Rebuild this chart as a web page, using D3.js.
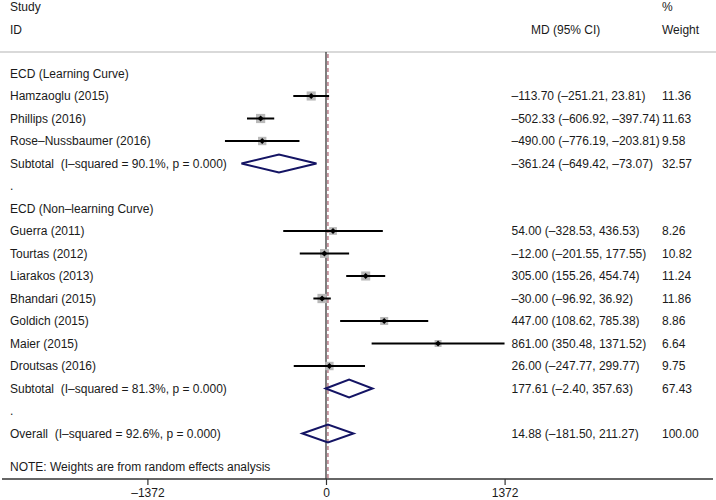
<!DOCTYPE html>
<html>
<head>
<meta charset="utf-8">
<script src="https://cdn.jsdelivr.net/npm/d3@7"></script>
<style>
  html, body { margin: 0; padding: 0; background: #fff; }
  svg { display: block; }
  text { font-family: "Liberation Sans", Arial, Helvetica, sans-serif; font-size: 12px; fill: #1a1a1a; white-space: pre; }
</style>
</head>
<body>
<svg id="chart" width="716" height="500"></svg>
<script>
// ---- data ----
const rowLabels = [
  "ECD (Learning Curve)",
  "Hamzaoglu (2015)",
  "Phillips (2016)",
  "Rose–Nussbaumer (2016)",
  "Subtotal  (I–squared = 90.1%, p = 0.000)",
  ".",
  "ECD (Non–learning Curve)",
  "Guerra (2011)",
  "Tourtas (2012)",
  "Liarakos (2013)",
  "Bhandari (2015)",
  "Goldich (2015)",
  "Maier (2015)",
  "Droutsas (2016)",
  "Subtotal  (I–squared = 81.3%, p = 0.000)",
  ".",
  "Overall  (I–squared = 92.6%, p = 0.000)"
];
// row type: h = group header, s = study, d = pooled diamond, b = blank
const rowTypes = ["h","s","s","s","d","b","h","s","s","s","s","s","s","s","d","b","d"];
const md     = [null, -113.70, -502.33, -490.00, -361.24, null, null, 54.00, -12.00, 305.00, -30.00, 447.00, 861.00, 26.00, 177.61, null, 14.88];
const ciLow  = [null, -251.21, -606.92, -776.19, -649.42, null, null, -328.53, -201.55, 155.26, -96.92, 108.62, 350.48, -247.77, -2.40, null, -181.50];
const ciHigh = [null, 23.81, -397.74, -203.81, -73.07, null, null, 436.53, 177.55, 454.74, 36.92, 785.38, 1371.52, 299.77, 357.63, null, 211.27];
const weights = [null, 11.36, 11.63, 9.58, 32.57, null, null, 8.26, 10.82, 11.24, 11.86, 8.86, 6.64, 9.75, 67.43, null, 100.00];
const tickValues = [-1372, 0, 1372];
const overallEffect = 14.88;

const fmt = v => (v < 0 ? "–" : "") + Math.abs(v).toFixed(2);

// ---- layout ----
const svg = d3.select("#chart");
const x = d3.scaleLinear().domain([-1372, 1372]).range([147.4, 504.6]);
const y = d3.scalePoint().domain(d3.range(rowLabels.length)).range([73.5, 433.5]);
const axisY = 479;
const topLineY = 52;
const textX = 10, ciTextX = 511.5, wX = 662;
const ink = "#1a1a1a";

// header
svg.append("text").attr("x", textX).attr("y", 7).attr("dy", "0.35em").text("Study");
svg.append("text").attr("x", textX).attr("y", 29.5).attr("dy", "0.35em").text("ID");
svg.append("text").attr("x", 531).attr("y", 29.5).attr("dy", "0.35em").text("MD (95% CI)");
svg.append("text").attr("x", wX).attr("y", 7).attr("dy", "0.35em").text("%");
svg.append("text").attr("x", wX).attr("y", 29.5).attr("dy", "0.35em").text("Weight");

svg.append("line").attr("x1", 0).attr("x2", 716).attr("y1", topLineY).attr("y2", topLineY)
  .attr("stroke", "#b4b4b4").attr("stroke-width", 1.2);

// null line
svg.append("line").attr("x1", x(0)).attr("x2", x(0)).attr("y1", topLineY).attr("y2", axisY)
  .attr("stroke", "#3a3a3a").attr("stroke-width", 1.3);
// overall effect dashed line
svg.append("line").attr("x1", x(overallEffect)).attr("x2", x(overallEffect)).attr("y1", topLineY + 2).attr("y2", axisY)
  .attr("stroke", "#b06a78").attr("stroke-width", 1.3).attr("stroke-dasharray", "4,3");

const rows = rowLabels.map((label, i) => ({ i, label, type: rowTypes[i], md: md[i], lo: ciLow[i], hi: ciHigh[i], w: weights[i] }));

// labels
svg.append("g").selectAll("text").data(rows).join("text")
  .attr("x", textX).attr("y", d => y(d.i)).attr("dy", "0.35em").text(d => d.label);

// right-side texts
const withVals = rows.filter(d => d.md !== null);
svg.append("g").selectAll("text").data(withVals).join("text")
  .attr("x", ciTextX).attr("y", d => y(d.i)).attr("dy", "0.35em")
  .text(d => `${fmt(d.md)} (${fmt(d.lo)}, ${fmt(d.hi)})`);
svg.append("g").selectAll("text").data(withVals).join("text")
  .attr("x", wX).attr("y", d => y(d.i)).attr("dy", "0.35em")
  .text(d => d.w.toFixed(2));

// studies
const studies = rows.filter(d => d.type === "s");
const g = svg.append("g");
g.selectAll("rect.box").data(studies).join("rect").attr("class", "box")
  .attr("x", d => x(d.md) - Math.sqrt(d.w) * 1.35)
  .attr("y", d => y(d.i) - Math.sqrt(d.w) * 1.35)
  .attr("width", d => Math.sqrt(d.w) * 2.7)
  .attr("height", d => Math.sqrt(d.w) * 2.7)
  .attr("fill", "#b9b9b9");
g.selectAll("line.ci").data(studies).join("line").attr("class", "ci")
  .attr("x1", d => x(d.lo)).attr("x2", d => x(d.hi))
  .attr("y1", d => y(d.i)).attr("y2", d => y(d.i))
  .attr("stroke", "#000").attr("stroke-width", 2);
g.selectAll("path.pt").data(studies).join("path").attr("class", "pt")
  .attr("d", d => { const cx = x(d.md), cy = y(d.i), r = 3; return `M${cx},${cy - r}L${cx + r},${cy}L${cx},${cy + r}L${cx - r},${cy}Z`; })
  .attr("fill", "#000");

// diamonds
const pooled = rows.filter(d => d.type === "d");
g.selectAll("path.dia").data(pooled).join("path").attr("class", "dia")
  .attr("d", d => { const cy = y(d.i), h = 9; return `M${x(d.lo)},${cy}L${x(d.md)},${cy - h}L${x(d.hi)},${cy}L${x(d.md)},${cy + h}Z`; })
  .attr("fill", "none").attr("stroke", "#141464").attr("stroke-width", 2).attr("stroke-linejoin", "miter");

// note
svg.append("text").attr("x", textX).attr("y", 466.5).attr("dy", "0.35em").text("NOTE: Weights are from random effects analysis");

// axis
const axis = svg.append("g").attr("transform", `translate(0,${axisY})`)
  .call(d3.axisBottom(x).tickValues(tickValues).tickSize(6).tickPadding(3).tickFormat(v => v < 0 ? "–" + Math.abs(v) : String(v)));
axis.select(".domain").remove();
axis.insert("line", ":first-child").attr("x1", 2).attr("x2", 713).attr("y1", 0).attr("y2", 0)
  .attr("stroke", "#333").attr("stroke-width", 1.3);
axis.selectAll(".tick line").attr("stroke", "#333").attr("stroke-width", 1.2);
axis.selectAll(".tick text").attr("font-family", null).attr("font-size", null).style("font-size", "12px").style("fill", ink);
</script>
</body>
</html>
